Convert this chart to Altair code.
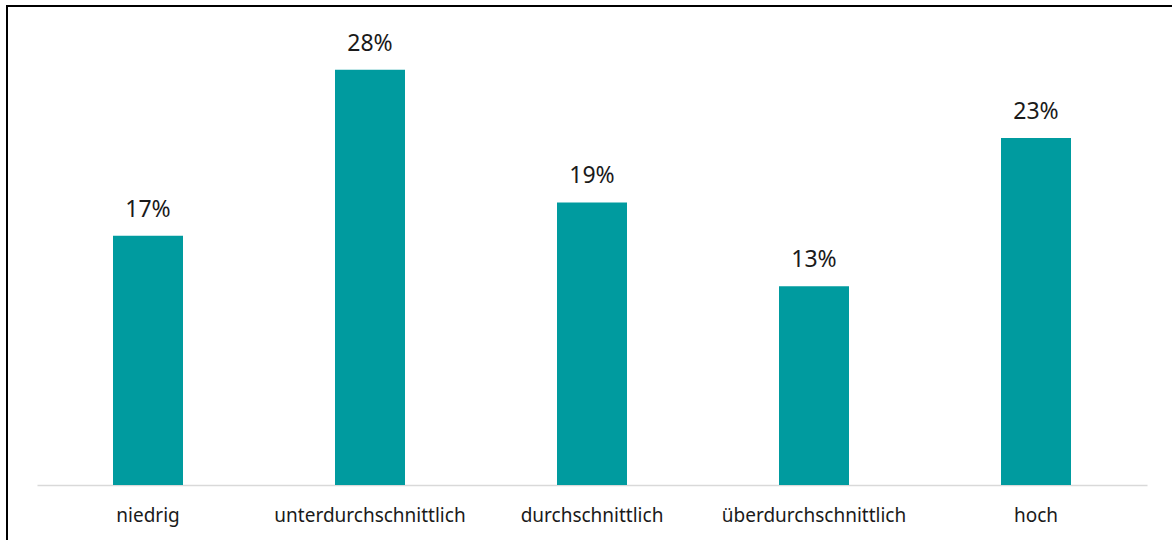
import altair as alt
import pandas as pd

categories = ["niedrig", "unterdurchschnittlich", "durchschnittlich", "überdurchschnittlich", "hoch"]
values = [0.168, 0.280, 0.1905, 0.134, 0.234]

df = pd.DataFrame({"cat": categories, "val": values})

FONT = "Noto Sans"

x = alt.X("cat:N", sort=categories, title=None,
          scale=alt.Scale(paddingInner=0, paddingOuter=0),
          axis=alt.Axis(labelAngle=0, ticks=False, domain=True, domainColor="#d9d9d9",
                        domainWidth=1.5, labelFont=FONT, labelFontSize=19, labelColor="#1a1a1a",
                        labelBaseline="alphabetic", labelPadding=36, labelLimit=400, grid=False))
y = alt.Y("val:Q", scale=alt.Scale(domain=[0, 0.3]), axis=None)

base = alt.Chart(df)
bars = base.mark_bar(size=70, color="#009B9F").encode(x=x, y=y)
text = base.mark_text(dy=-19, baseline="alphabetic", font=FONT, fontSize=23, color="#1a1a1a").encode(
    x=x, y=y, text=alt.Text("val:Q", format=".0%"))

border = alt.Chart(pd.DataFrame({"a": [0]})).mark_rect(
    fill=None, stroke="black", strokeWidth=2, clip=False).encode(
    x=alt.value(-30), x2=alt.value(1400), y=alt.value(-34), y2=alt.value(700))

chart = alt.layer(border, bars, text).properties(
    width=1110, height=445,
    autosize=alt.AutoSizeParams(type="none"),
    padding={"left": 37, "top": 40, "right": 25, "bottom": 55},
).configure(background="white").configure_view(stroke=None)

chart.save("out.html", embed_options={"renderer": "svg", "actions": False})
